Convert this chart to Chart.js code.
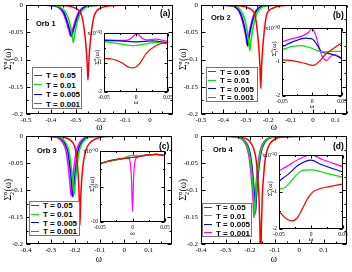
<!DOCTYPE html>
<html>
<head>
<meta charset="utf-8">
<script src="https://cdn.jsdelivr.net/npm/chart.js@4.4.1/dist/chart.umd.min.js"></script>
<style>
  body { margin: 0; background: #fff; }
  #fig { position: relative; width: 352px; height: 272px; overflow: hidden; }
  #fig canvas { position: absolute; }
  .lbl { position: absolute; font: bold 7.5px "Liberation Sans", Arial, sans-serif; line-height: 9px; white-space: nowrap; }
  .tag { position: absolute; font: bold 8.5px "Liberation Sans", Arial, sans-serif; line-height: 9px; white-space: nowrap; }
  .leg { position: absolute; border: 1px solid #777; background: #fff; box-sizing: border-box; }
  .leg div { position: absolute; left: 0; font: bold 8px "Liberation Sans", Arial, sans-serif; line-height: 8px; white-space: nowrap; }
  .leg i { display: inline-block; width: 8px; height: 0; border-top: 1.6px solid; vertical-align: middle; margin: 0 4px 1px 1px; }
</style>
</head>
<body>
<div id="fig">
  <canvas id="cA" style="left:0;top:-4px" width="176" height="140"></canvas>
  <canvas id="cB" style="left:176px;top:-4px" width="176" height="140"></canvas>
  <canvas id="cC" style="left:0;top:128px" width="176" height="144"></canvas>
  <canvas id="cD" style="left:176px;top:128px" width="176" height="144"></canvas>
  <canvas id="iA" style="left:78px;top:24px" width="100" height="84"></canvas>
  <canvas id="iB" style="left:256px;top:19px" width="100" height="93"></canvas>
  <canvas id="iC" style="left:74px;top:142px" width="100" height="97"></canvas>
  <canvas id="iD" style="left:253px;top:146px" width="100" height="99"></canvas>
</div>
<script>
// ─── DATA ─────────────────────────────────────────────────────────────
const tempLabels = ['T = 0.05', 'T = 0.01', 'T = 0.005', 'T = 0.001'];

// main panels: omega / Sigma_2 for T = 0.05, 0.01, 0.005, 0.001
const orb1W = [
  [-0.5, -0.4, -0.33, -0.3, -0.285, -0.275, -0.265, -0.259, -0.254, -0.25, -0.246, -0.241, -0.235, -0.225, -0.215, -0.2, -0.17, -0.1, 0.1],
  [-0.5, -0.42, -0.38, -0.355, -0.34, -0.329, -0.319, -0.314, -0.309, -0.304, -0.299, -0.289, -0.279, -0.264, -0.24, -0.2, 0.1],
  [-0.5, -0.43, -0.386, -0.361, -0.346, -0.336, -0.326, -0.321, -0.316, -0.311, -0.306, -0.296, -0.286, -0.271, -0.246, -0.2, 0.1],
  [-0.5, -0.43, -0.39, -0.365, -0.35, -0.34, -0.33, -0.325, -0.32, -0.315, -0.31, -0.3, -0.29, -0.275, -0.25, -0.2, 0.1],
];
const orb1S = [
  [0, -0.0005, -0.002, -0.006, -0.011, -0.02, -0.045, -0.07, -0.1, -0.138, -0.1, -0.07, -0.045, -0.02, -0.011, -0.006, -0.002, -0.0005, 0],
  [0, -0.0005, -0.0015, -0.006, -0.014, -0.025, -0.042, -0.055, -0.069, -0.055, -0.042, -0.025, -0.014, -0.006, -0.0015, -0.0003, 0],
  [0, -0.0005, -0.0015, -0.006, -0.015, -0.027, -0.042, -0.05, -0.058, -0.05, -0.042, -0.027, -0.015, -0.006, -0.0015, -0.0003, 0],
  [0, -0.0005, -0.0015, -0.006, -0.015, -0.027, -0.042, -0.05, -0.057, -0.05, -0.042, -0.027, -0.015, -0.006, -0.0015, -0.0003, 0],
];
const orb2W = [
  [-0.5, -0.4, -0.32, -0.285, -0.268, -0.258, -0.248, -0.242, -0.237, -0.233, -0.229, -0.224, -0.218, -0.208, -0.198, -0.18, -0.15, -0.08, 0.152],
  [-0.5, -0.4, -0.355, -0.33, -0.315, -0.304, -0.293, -0.287, -0.282, -0.277, -0.271, -0.26, -0.249, -0.234, -0.21, -0.17, 0.152],
  [-0.5, -0.41, -0.364, -0.339, -0.324, -0.313, -0.302, -0.296, -0.291, -0.286, -0.28, -0.269, -0.258, -0.243, -0.22, -0.18, 0.152],
  [-0.5, -0.41, -0.367, -0.342, -0.327, -0.316, -0.305, -0.299, -0.294, -0.289, -0.283, -0.272, -0.261, -0.246, -0.223, -0.18, 0.152],
];
const orb2S = [
  [0, -0.0005, -0.002, -0.006, -0.011, -0.02, -0.05, -0.077, -0.11, -0.153, -0.11, -0.077, -0.05, -0.02, -0.011, -0.006, -0.002, -0.0005, 0],
  [0, -0.0005, -0.0015, -0.006, -0.015, -0.028, -0.05, -0.066, -0.084, -0.066, -0.05, -0.028, -0.015, -0.006, -0.0015, -0.0003, 0],
  [0, -0.0005, -0.0015, -0.006, -0.015, -0.028, -0.048, -0.061, -0.075, -0.061, -0.048, -0.028, -0.015, -0.006, -0.0015, -0.0003, 0],
  [0, -0.0005, -0.0015, -0.006, -0.015, -0.028, -0.047, -0.06, -0.073, -0.06, -0.047, -0.028, -0.015, -0.006, -0.0015, -0.0003, 0],
];
const orb3W = [
  [-0.4, -0.3, -0.25, -0.225, -0.21, -0.2, -0.192, -0.187, -0.183, -0.18, -0.177, -0.172, -0.165, -0.155, -0.14, -0.12, -0.09, -0.03, 0.195],
  [-0.4, -0.32, -0.275, -0.25, -0.235, -0.225, -0.216, -0.21, -0.204, -0.198, -0.192, -0.183, -0.173, -0.158, -0.135, -0.09, 0.195],
  [-0.4, -0.325, -0.28, -0.255, -0.24, -0.23, -0.221, -0.215, -0.209, -0.203, -0.197, -0.188, -0.178, -0.163, -0.14, -0.095, 0.195],
  [-0.4, -0.33, -0.287, -0.262, -0.247, -0.237, -0.228, -0.222, -0.216, -0.21, -0.204, -0.195, -0.185, -0.17, -0.147, -0.1, 0.195],
];
const orb3S = [
  [0, -0.0005, -0.002, -0.006, -0.012, -0.022, -0.045, -0.075, -0.115, -0.165, -0.115, -0.075, -0.045, -0.025, -0.013, -0.006, -0.002, -0.0005, 0],
  [0, -0.0005, -0.0015, -0.006, -0.015, -0.028, -0.055, -0.08, -0.108, -0.08, -0.055, -0.028, -0.015, -0.006, -0.0015, -0.0003, 0],
  [0, -0.0005, -0.0015, -0.006, -0.015, -0.028, -0.057, -0.083, -0.113, -0.083, -0.057, -0.028, -0.015, -0.006, -0.0015, -0.0003, 0],
  [0, -0.0005, -0.0015, -0.006, -0.015, -0.028, -0.056, -0.082, -0.111, -0.082, -0.056, -0.028, -0.015, -0.006, -0.0015, -0.0003, 0],
];
const orb4W = [
  [-0.4, -0.3, -0.24, -0.212, -0.197, -0.185, -0.175, -0.169, -0.164, -0.16, -0.157, -0.154, -0.15, -0.145, -0.139, -0.129, -0.117, -0.1, -0.07, 0, 0.195],
  [-0.4, -0.3, -0.261, -0.231, -0.214, -0.203, -0.195, -0.189, -0.185, -0.181, -0.177, -0.173, -0.167, -0.159, -0.148, -0.131, -0.101, 0.195],
  [-0.4, -0.3, -0.258, -0.228, -0.211, -0.2, -0.192, -0.186, -0.182, -0.178, -0.174, -0.17, -0.164, -0.156, -0.145, -0.128, -0.098, 0.195],
  [-0.4, -0.3, -0.264, -0.234, -0.217, -0.206, -0.198, -0.192, -0.188, -0.184, -0.18, -0.176, -0.17, -0.162, -0.151, -0.134, -0.104, 0.195],
];
const orb4S = [
  [0, -0.0005, -0.002, -0.006, -0.013, -0.024, -0.045, -0.075, -0.11, -0.17, -0.24, -0.17, -0.11, -0.075, -0.045, -0.024, -0.013, -0.006, -0.002, -0.0005, 0],
  [0, -0.0003, -0.0015, -0.006, -0.016, -0.033, -0.06, -0.09, -0.115, -0.148, -0.115, -0.09, -0.06, -0.033, -0.016, -0.006, -0.0015, 0],
  [0, -0.0003, -0.0015, -0.006, -0.016, -0.032, -0.058, -0.087, -0.112, -0.143, -0.112, -0.087, -0.058, -0.032, -0.016, -0.006, -0.0015, 0],
  [0, -0.0003, -0.0015, -0.006, -0.016, -0.034, -0.062, -0.092, -0.118, -0.152, -0.118, -0.092, -0.062, -0.034, -0.016, -0.006, -0.0015, 0],
];

// insets: omega / Sigma_2 in units of 1e-3
const orb1InW = [
  [-0.05, -0.036, -0.023, -0.01, -0.004, 0.006, 0.016, 0.029, 0.042, 0.05],
  [-0.05, -0.025, -0.005, 0.015, 0.03, 0.05],
  [-0.05, -0.025, 0.002, 0.025, 0.05],
  [-0.05, -0.015, -0.007, 0.001, 0.009, 0.016, 0.03, 0.05],
];
const orb1InS = [
  [-0.86, -0.89, -1.0, -1.17, -1.18, -1.03, -0.69, -0.46, -0.34, -0.32],
  [-0.29, -0.37, -0.43, -0.37, -0.32, -0.37],
  [-0.25, -0.27, -0.3, -0.27, -0.34],
  [-0.23, -0.25, -0.17, -0.02, -0.17, -0.23, -0.21, -0.29],
];
const orb2InW = [
  [-0.05, -0.034, -0.012, 0.002, 0.013, 0.021, 0.032, 0.05],
  [-0.05, -0.034, -0.017, -0.003, 0.011, 0.019, 0.033, 0.05],
  [-0.05, -0.028, -0.011, -0.001, 0.008, 0.016, 0.027, 0.038, 0.05],
  [-0.05, -0.034, -0.017, -0.006, 0, 0.006, 0.013, 0.019, 0.025, 0.03, 0.038, 0.05],
];
const orb2InS = [
  [-0.94, -0.96, -1.04, -1.1, -0.97, -0.8, -0.65, -0.43],
  [-0.64, -0.55, -0.52, -0.58, -0.68, -0.7, -0.69, -0.69],
  [-0.55, -0.38, -0.3, -0.31, -0.48, -0.7, -0.75, -0.8, -0.9],
  [-0.41, -0.32, -0.24, -0.13, -0.01, -0.2, -0.65, -0.9, -0.95, -0.85, -0.78, -0.9],
];
const orb3InW = [
  [-0.05, -0.038, -0.018, 0.003, 0.022, 0.037, 0.05],
  [-0.05, -0.038, -0.018, -0.007, 0, 0.01, 0.022, 0.037, 0.05],
  [-0.05, -0.038, -0.018, 0.003, 0.022, 0.037, 0.05],
  [-0.05, -0.038, -0.018, -0.006, -0.003, -0.0015, 0, 0.0015, 0.003, 0.006, 0.022, 0.037, 0.05],
];
const orb3InS = [
  [-1.85, -1.45, -1.1, -0.88, -0.57, -0.48, -0.66],
  [-1.76, -1.45, -1.1, -0.75, -0.62, -0.7, -0.57, -0.48, -0.66],
  [-1.76, -1.45, -1.1, -0.88, -0.57, -0.48, -0.66],
  [-1.76, -1.45, -1.1, -1.0, -2.0, -4.2, -8.5, -4.2, -2.0, -0.95, -0.57, -0.48, -0.66],
];
const orb4InW = [
  [-0.05, -0.041, -0.03, -0.022, -0.014, -0.006, 0.002, 0.012, 0.026, 0.05],
  [-0.05, -0.041, -0.03, -0.02, -0.011, 0.002, 0.023, 0.05],
  [-0.05, -0.035, -0.02, 0, 0.015, 0.05],
  [-0.05, -0.035, -0.02, 0, 0.018, 0.05],
];
const orb4InS = [
  [-1.52, -1.69, -1.78, -1.71, -1.47, -1.2, -1.01, -0.92, -0.86, -0.78],
  [-0.92, -0.88, -0.69, -0.49, -0.41, -0.4, -0.49, -0.6],
  [-0.71, -0.51, -0.28, -0.14, -0.25, -0.46],
  [-0.43, -0.28, -0.12, 0, -0.12, -0.32],
];

// ticks
const mainYTicks = [0, -0.05, -0.1, -0.15, -0.2];
const xTicksA = [-0.5, -0.4, -0.3, -0.2, -0.1, 0];
const xTicksB = [-0.5, -0.4, -0.3, -0.2, -0.1, 0, 0.1];
const xTicksCD = [-0.4, -0.3, -0.2, -0.1, 0, 0.1];
const insetXTicks = [-0.05, 0, 0.05];
const insetYTicks = [0, -1, -2];
const insetYTicksC = [0, -5, -10];

// ─── STYLE ────────────────────────────────────────────────────────────
const lineColors = ['#ff0000', '#00e600', '#0000ff', '#ff00ff'];
const SERIF = '"Liberation Serif", "Times New Roman", serif';
Chart.defaults.font.family = SERIF;
Chart.defaults.color = '#000';

function drawSigma(ctx, cx, cy, s) {
  ctx.save();
  ctx.translate(cx, cy);
  ctx.rotate(-Math.PI / 2);
  ctx.fillStyle = '#000';
  ctx.textAlign = 'left';
  ctx.textBaseline = 'alphabetic';
  const big = s + 'px ' + SERIF, small = (s * 0.62).toFixed(1) + 'px ' + SERIF;
  ctx.font = big;
  const wS = ctx.measureText('Σ').width, wP = ctx.measureText('(ω)').width;
  ctx.font = small;
  const wA = Math.max(ctx.measureText('α').width, ctx.measureText('2').width);
  let x = -(wS + wA + wP) / 2;
  const base = s * 0.35;
  ctx.font = big; ctx.fillText('Σ', x, base); x += wS;
  ctx.font = small;
  ctx.fillText('α', x, base - s * 0.45);
  ctx.fillText('2', x, base + s * 0.25);
  x += wA + s * 0.05;
  ctx.font = big; ctx.fillText('(ω)', x, base);
  ctx.restore();
}

function drawExp(ctx, xr, y, s) {
  ctx.save();
  ctx.fillStyle = '#000';
  ctx.textBaseline = 'middle';
  ctx.textAlign = 'left';
  const big = s + 'px ' + SERIF, small = (s * 0.7).toFixed(1) + 'px ' + SERIF;
  ctx.font = big; const w1 = ctx.measureText('x10').width;
  ctx.font = small; const w2 = ctx.measureText('-3').width;
  let x = xr - w1 - w2;
  ctx.font = big; ctx.fillText('x10', x, y);
  ctx.font = small; ctx.fillText('-3', x + w1, y - s * 0.35);
  ctx.restore();
}

function halfSteps(ticks, min, max) {
  const step = ticks[1] - ticks[0], out = [];
  for (let k = -1; k < ticks.length + 1; k++) {
    const v = ticks[0] + (k + 0.5) * step;
    if (v > Math.min(min, max) && v < Math.max(min, max)) out.push(v);
  }
  return out;
}

// frame + inward ticks + Sigma title
const framePlugin = {
  id: 'frame',
  beforeDatasetsDraw(chart, args, o) {
    if (!o.fill) return;
    const a = chart.chartArea, ctx = chart.ctx;
    ctx.save();
    ctx.fillStyle = '#fff';
    ctx.fillRect(a.left, a.top, a.right - a.left, a.bottom - a.top);
    ctx.restore();
  },
  afterDatasetsDraw(chart, args, o) {
    const { ctx, chartArea: a, scales: { x, y } } = chart;
    const L = Math.round(a.left) + 0.5, R = Math.round(a.right) - 0.5;
    const T = Math.round(a.top) + 0.5, B = Math.round(a.bottom) - 0.5;
    ctx.save();
    ctx.strokeStyle = '#000';
    ctx.lineWidth = 1;
    ctx.strokeRect(L, T, R - L, B - T);
    ctx.beginPath();
    const xt = (v, len) => {
      const p = Math.round(x.getPixelForValue(v)) + 0.5;
      ctx.moveTo(p, B); ctx.lineTo(p, B - len);
      ctx.moveTo(p, T); ctx.lineTo(p, T + len);
    };
    const yt = (v, len) => {
      const p = Math.round(y.getPixelForValue(v)) + 0.5;
      ctx.moveTo(L, p); ctx.lineTo(L + len, p);
      ctx.moveTo(R, p); ctx.lineTo(R - len, p);
    };
    o.xTicks.forEach(v => xt(v, o.tick));
    halfSteps(o.xTicks, x.min, x.max).forEach(v => xt(v, o.tick / 2));
    o.yTicks.forEach(v => yt(v, o.tick));
    halfSteps(o.yTicks, y.min, y.max).forEach(v => yt(v, o.tick / 2));
    ctx.stroke();
    ctx.restore();
    drawSigma(ctx, a.left - o.titleDx, (a.top + a.bottom) / 2 + o.titleDy, o.titleSize);
    if (o.exp) drawExp(ctx, a.left - 5, a.top + 1, 5.5);
  },
};

function plot(id, o) {
  const cv = document.getElementById(id);
  const w = cv.width, h = cv.height, ar = o.area;
  return new Chart(cv, {
    type: 'line',
    data: {
      datasets: o.ws.map((xs, i) => ({
        label: tempLabels[i],
        data: xs.map((v, j) => ({ x: v, y: o.ss[i][j] })),
        borderColor: lineColors[i],
        borderWidth: o.lw,
        pointRadius: 0,
        fill: false,
        cubicInterpolationMode: 'monotone',
      })),
    },
    options: {
      responsive: false,
      animation: false,
      devicePixelRatio: 1,
      layout: { padding: { left: 0, top: ar.t, right: w - ar.r, bottom: 0 } },
      plugins: {
        legend: { display: false },
        tooltip: { enabled: false },
        frame: {
          fill: o.inset, xTicks: o.xTicks, yTicks: o.yTicks, tick: o.inset ? 3 : 4,
          titleDx: o.titleDx, titleDy: o.titleDy, titleSize: o.titleSize, exp: o.inset,
        },
      },
      scales: {
        x: {
          type: 'linear', min: o.xMin, max: o.xMax,
          grid: { display: false, drawTicks: false }, border: { display: false },
          afterBuildTicks: s => { s.ticks = o.xTicks.map(v => ({ value: v })); },
          afterFit: s => { s.height = h - ar.b; },
          ticks: { font: { size: o.fs }, padding: o.inset ? 2 : 2, maxRotation: 0, autoSkip: false, callback: v => String(v) },
          title: { display: true, text: 'ω', font: { size: o.inset ? 7 : 9.5 }, padding: { top: 0, bottom: o.xtPad } },
        },
        y: {
          type: 'linear', min: o.yMin, max: o.yMax,
          grid: { display: false, drawTicks: false }, border: { display: false },
          afterBuildTicks: s => { s.ticks = o.yTicks.map(v => ({ value: v })); },
          afterFit: s => { s.width = ar.l; },
          ticks: { font: { size: o.fs }, padding: o.inset ? 2 : 3, autoSkip: false, callback: v => String(v) },
        },
      },
    },
    plugins: [framePlugin],
  });
}

const mainOpts = { yMin: -0.2, yMax: 0, yTicks: mainYTicks, lw: 1.5, fs: 7, inset: false, titleDx: 18, titleDy: 0, titleSize: 9.5 };
plot('cA', { ...mainOpts, ws: orb1W, ss: orb1S, xMin: -0.5, xMax: 0.093, xTicks: xTicksA, area: { l: 26, t: 9, r: 173, b: 118 }, xtPad: 2.8 });
plot('cB', { ...mainOpts, ws: orb2W, ss: orb2S, xMin: -0.5, xMax: 0.152, xTicks: xTicksB, area: { l: 25, t: 9, r: 171, b: 118 }, xtPad: 2.8 });
plot('cC', { ...mainOpts, ws: orb3W, ss: orb3S, xMin: -0.4, xMax: 0.195, xTicks: xTicksCD, area: { l: 26, t: 8, r: 172, b: 116 }, xtPad: 7.3 });
plot('cD', { ...mainOpts, ws: orb4W, ss: orb4S, xMin: -0.4, xMax: 0.195, xTicks: xTicksCD, area: { l: 25, t: 8, r: 171, b: 116 }, xtPad: 7.3 });

const insetOpts = { xMin: -0.05, xMax: 0.05, xTicks: insetXTicks, lw: 1.2, fs: 5.5, inset: true, titleSize: 6.5, xtPad: 1.8 };
plot('iA', { ...insetOpts, ws: orb1InW, ss: orb1InS, yMin: -2, yMax: 0, yTicks: insetYTicks, area: { l: 26, t: 9, r: 90, b: 68 }, titleDx: 7, titleDy: -5 });
plot('iB', { ...insetOpts, ws: orb2InW, ss: orb2InS, yMin: -2, yMax: 0, yTicks: insetYTicks, area: { l: 26, t: 9, r: 86, b: 77 }, titleDx: 8, titleDy: -13 });
plot('iC', { ...insetOpts, ws: orb3InW, ss: orb3InS, yMin: -10, yMax: 0, yTicks: insetYTicksC, area: { l: 26, t: 9, r: 91, b: 80 }, titleDx: 8, titleDy: -2 });
plot('iD', { ...insetOpts, ws: orb4InW, ss: orb4InS, yMin: -2, yMax: 0, yTicks: insetYTicks, area: { l: 26, t: 9, r: 90, b: 83 }, titleDx: 9, titleDy: -3 });

// ─── LABELS & LEGENDS ─────────────────────────────────────────────────
const fig = document.getElementById('fig');

function text(cls, str, left, top) {
  const d = document.createElement('div');
  d.className = cls;
  d.textContent = str;
  d.style.left = left + 'px';
  d.style.top = top + 'px';
  fig.appendChild(d);
}

function legend(box, rows) {
  const d = document.createElement('div');
  d.className = 'leg';
  Object.assign(d.style, { left: box[0] + 'px', top: box[1] + 'px', width: box[2] + 'px', height: box[3] + 'px' });
  tempLabels.forEach((t, i) => {
    const r = document.createElement('div');
    r.style.top = (rows[i] - 4) + 'px';
    r.innerHTML = `<i style="border-color:${lineColors[i]}"></i>${t}`;
    d.appendChild(r);
  });
  fig.appendChild(d);
}

text('lbl', 'Orb 1', 36, 18.5);
text('lbl', 'Orb 2', 211, 12.5);
text('lbl', 'Orb 3', 37, 145.5);
text('lbl', 'Orb 4', 213, 144.5);
text('tag', '(a)', 160, 8.5);
text('tag', '(b)', 333, 10.5);
text('tag', '(c)', 159, 141.5);
text('tag', '(d)', 333, 141.5);

legend([32, 67, 50, 42], [8, 17.5, 27, 36.5]);
legend([206, 67, 52, 35], [4.5, 13, 21.5, 30]);
legend([29, 201, 51, 35], [4, 13, 21.5, 30]);
legend([202, 203, 50, 34], [4, 12.5, 21, 29.5]);
</script>
</body>
</html>
